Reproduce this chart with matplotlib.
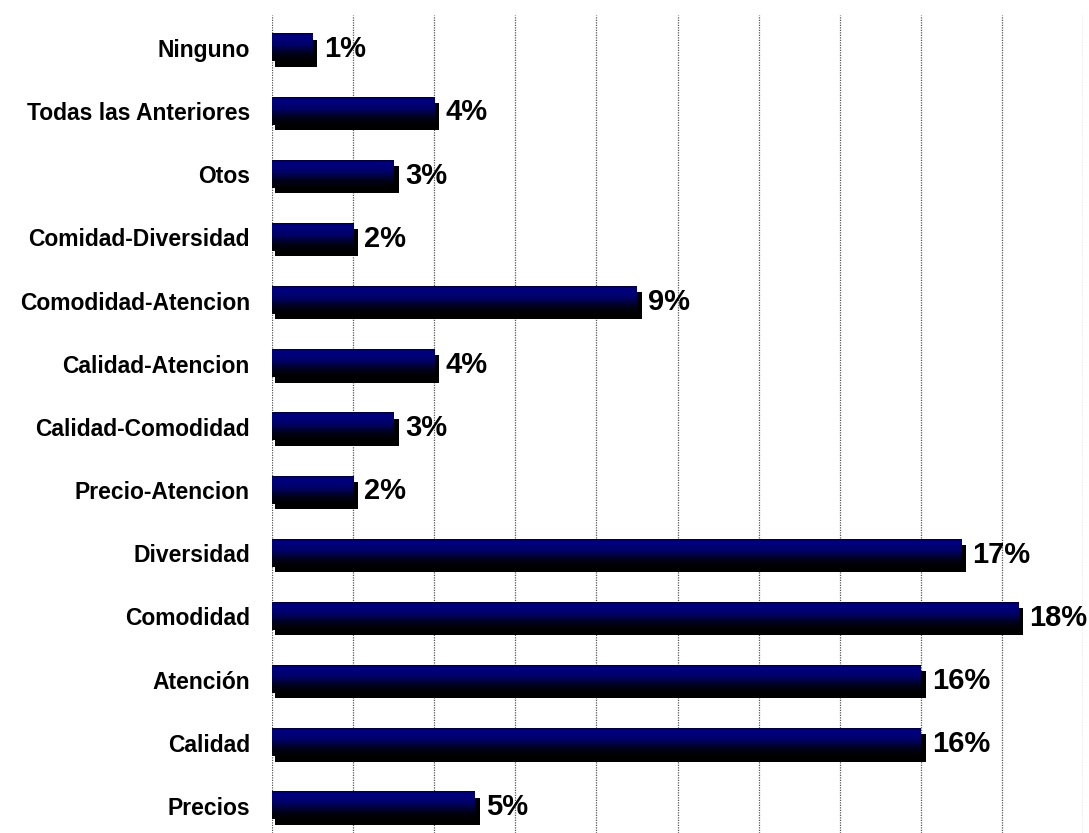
import matplotlib
matplotlib.use("Agg")
import matplotlib.pyplot as plt
from matplotlib.colors import LinearSegmentedColormap
import numpy as np

# categorias de abajo hacia arriba
categorias = ["Precios", "Calidad", "Atención", "Comodidad", "Diversidad",
              "Precio-Atencion", "Calidad-Comodidad", "Calidad-Atencion",
              "Comodidad-Atencion", "Comidad-Diversidad", "Otos",
              "Todas las Anteriores", "Ninguno"]
porcentajes = [5.0, 16.0, 16.0, 18.4, 17.0, 2.0, 3.0, 4.0, 9.0, 2.0, 3.0, 4.0, 1.0]

plt.rcParams["font.family"] = ["Liberation Sans", "DejaVu Sans"]

fig = plt.figure(figsize=(10.89, 8.33), dpi=100)
ax = fig.add_axes([0.2498, 0.0, 0.7447, 0.982])

alto = 0.43
# degradado azul marino -> negro (de arriba hacia abajo)
cmap = LinearSegmentedColormap.from_list(
    "navy", [(0.0, "#000000"), (0.25, "#00001a"), (0.6, "#00006a"),
             (0.9, "#000080"), (0.95, "#000070"), (1.0, "#000030")])
grad = np.linspace(0, 1, 64).reshape(-1, 1)

dx = 0.12   # desplazamiento de la sombra en x (%)
dy = 0.085  # desplazamiento de la sombra en y
for i, v in enumerate(porcentajes):
    # sombra
    ax.barh(i - dy, v + 0.05, height=alto, left=0.07, color="black", zorder=2)
    # barra con degradado
    ax.imshow(grad, extent=[0, v, i - alto / 2, i + alto / 2], origin="lower",
              cmap=cmap, aspect="auto", interpolation="bilinear", zorder=3)
    ax.annotate(f"{v:.0f}%", xy=(v, i), xytext=(8, -1), textcoords="offset points",
                ha="left", va="center", fontsize=21, fontweight="bold",
                color="black", annotation_clip=False, zorder=4)

ax.set_xlim(0, 20)
ax.set_ylim(-0.43, 12.52)
ax.set_xticks(np.arange(0, 21, 2))
ax.set_xticklabels([])
ax.set_yticks(range(len(categorias)))
ax.set_yticklabels(categorias, fontsize=16.5, fontweight="bold", color="black")
ax.tick_params(axis="both", length=0)
ax.tick_params(axis="y", pad=16)
ax.grid(axis="x", color="#555555", linestyle=(0, (1, 1)), linewidth=0.9)
ax.set_axisbelow(True)
for s in ax.spines.values():
    s.set_visible(False)

fig.savefig("out.png", dpi=100)
